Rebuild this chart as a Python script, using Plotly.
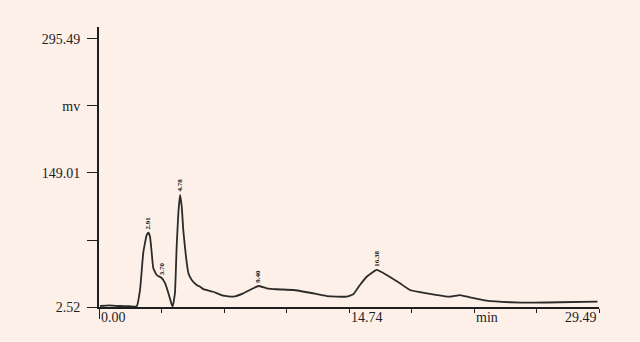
import plotly.graph_objects as go

# ---- data ----
time_min = [0.06, 0.6, 1.2, 1.8, 2.22, 2.42, 2.61, 2.81, 2.91, 3.01, 3.11, 3.20, 3.40, 3.70,
            3.89, 4.09, 4.29, 4.35, 4.48, 4.58, 4.68, 4.78, 4.88, 4.97, 5.13, 5.27, 5.47,
            5.76, 5.96, 6.15, 6.74, 7.33, 7.92, 8.51, 9.10, 9.40, 9.89, 10.48, 11.46,
            12.44, 13.43, 14.61, 15.00, 15.39, 15.79, 16.38, 16.97, 17.75, 18.34, 19.33,
            20.70, 21.29, 21.88, 22.87, 24.24, 25.61, 27.19, 29.40]
signal_mv = [3.6, 4.2, 3.6, 3.4, 3.0, 21.1, 61.6, 81.2, 83.7, 79.4, 61.6, 45.2, 37.5, 34.2,
             28.8, 17.8, 5.0, 3.2, 17.8, 68.4, 105.3, 125.0, 112.2, 86.7, 57.5, 39.7, 32.0,
             26.6, 24.7, 22.0, 19.2, 14.9, 13.8, 17.5, 23.0, 25.5, 23.0, 21.9, 21.1,
             18.1, 14.5, 13.8, 16.4, 26.6, 35.6, 43.0, 37.5, 28.4, 21.1, 17.5,
             13.8, 15.6, 13.1, 9.4, 7.7, 7.2, 7.7, 8.3]

peak_times = [2.91, 3.70, 4.78, 9.40, 16.38]
peak_heights = [83.7, 34.2, 125.0, 25.5, 43.0]
peak_labels = ["2.91", "3.70", "4.78", "9.40", "16.38"]

y_tickvals = [2.52, 75.765, 149.01, 222.25, 295.49]
y_ticktext = ["2.52", "", "149.01", "mv", "295.49"]

x_tickvals = [0.0, 3.686, 7.3725, 11.059, 14.745, 18.431, 22.1175, 25.804, 29.49]
x_label_vals = [0.0, 14.745, 22.1175, 29.49]
x_label_text = ["0.00", "14.74", "min", "29.49"]
x_label_anchor = ["left", "left", "left", "right"]

BG = "#fdf0e9"
INK = "#1e1e1e"
FONT = "Liberation Serif"

fig = go.Figure()
fig.add_trace(go.Scatter(
    x=time_min, y=signal_mv, mode="lines",
    line=dict(color="#2b2b2b", width=1.8, shape="spline", smoothing=0.35),
    hoverinfo="skip", showlegend=False))

y_bottom = 2.52
y_top = 308.6

fig.update_layout(
    width=640, height=342,
    margin=dict(l=99, r=41, t=27, b=35),
    paper_bgcolor=BG, plot_bgcolor=BG,
    font=dict(family=FONT, size=14, color=INK),
    showlegend=False,
    xaxis=dict(range=[0, 29.49], tickvals=x_tickvals, ticktext=[""] * len(x_tickvals),
               ticks="outside", ticklen=4, tickwidth=1.2, tickcolor=INK,
               showline=True, linecolor=INK, linewidth=1.6,
               showgrid=False, zeroline=False, fixedrange=True),
    yaxis=dict(range=[y_bottom, y_top], tickvals=y_tickvals, ticktext=y_ticktext,
               ticks="outside", ticklen=10, tickwidth=1, tickcolor=INK,
               ticklabelstandoff=4,
               showline=True, linecolor=INK, linewidth=2,
               showgrid=False, zeroline=False, fixedrange=True),
)

# extension of the y axis line below the baseline
fig.add_shape(type="line", xref="x", yref="paper", x0=0, x1=0, y0=0, y1=-0.043,
              line=dict(color=INK, width=2))

# x axis labels
for v, t, a in zip(x_label_vals, x_label_text, x_label_anchor):
    fig.add_annotation(x=v, y=-0.036, xref="x", yref="paper", text=t,
                       showarrow=False, xanchor=a, yanchor="middle",
                       font=dict(family=FONT, size=14, color=INK))

# peak retention-time labels (tiny, rotated)
for pt, ph, pl in zip(peak_times, peak_heights, peak_labels):
    fig.add_annotation(x=pt, y=ph, xref="x", yref="y", text="<b>" + pl + "</b>",
                       showarrow=False, textangle=-90, yanchor="bottom", yshift=1,
                       font=dict(family=FONT, size=7, color="#111"))

fig.write_html("out.html", config={"displayModeBar": False},
               post_script="document.body.style.margin='0';document.body.style.background='%s';" % BG)
